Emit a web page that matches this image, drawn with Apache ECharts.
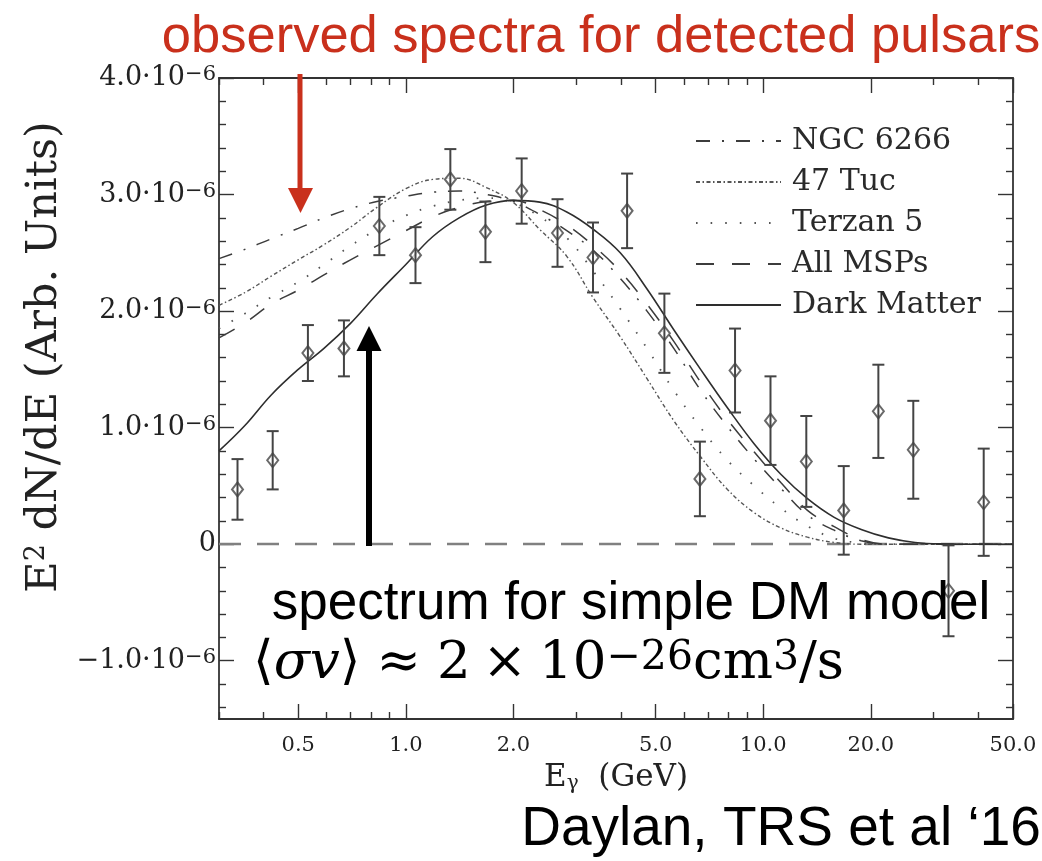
<!DOCTYPE html>
<html>
<head>
<meta charset="utf-8">
<script src="https://cdn.jsdelivr.net/npm/echarts@6/dist/echarts.min.js"></script>
<style>
  html, body { margin: 0; padding: 0; background: #ffffff; }
  #chart { width: 1042px; height: 861px; }
</style>
</head>
<body>
<div id="chart"></div>
<script>
// Binned gamma-ray excess spectrum (E^2 dN/dE in units of 1e-6)
const binEnergy = [0.338, 0.424, 0.532, 0.671, 0.843, 1.064, 1.332, 1.67, 2.109, 2.657, 3.34,
                   4.16, 5.29, 6.65, 8.34, 10.48, 13.2, 16.8, 21.0, 26.3, 33.0, 41.4];
const fluxValue = [0.47, 0.72, 1.64, 1.68, 2.73, 2.48, 3.13, 2.68, 3.03, 2.67, 2.46,
                   2.86, 1.81, 0.56, 1.49, 1.06, 0.71, 0.29, 1.14, 0.81, -0.40, 0.36];
const fluxError = [0.26, 0.25, 0.24, 0.24, 0.25, 0.24, 0.26, 0.26, 0.28, 0.29, 0.30,
                   0.32, 0.34, 0.32, 0.36, 0.38, 0.39, 0.38, 0.40, 0.42, 0.39, 0.46];

// Model spectra sampled on a common energy grid (GeV), E^2 dN/dE in 1e-6
const modelEnergy = [0.30, 0.355, 0.42, 0.50, 0.59, 0.70, 0.83, 1.0, 1.19, 1.41, 1.68, 2.0,
                     2.37, 2.82, 3.35, 3.98, 4.73, 5.62, 6.68, 7.94, 9.44, 11.2, 13.3, 15.8,
                     18.8, 22.4, 26.6, 31.6, 37.6, 50.0];
const ngc6266 = [2.45, 2.53, 2.62, 2.71, 2.80, 2.88, 2.94, 2.985, 3.02, 3.03, 3.00, 2.94,
                 2.83, 2.69, 2.52, 2.28, 2.00, 1.68, 1.32, 1.01, 0.73, 0.48, 0.25, 0.12,
                 0.03, 0.0, 0.0, 0.0, 0.0, 0.0];
const tuc47 = [2.05, 2.16, 2.30, 2.44, 2.57, 2.72, 2.89, 3.05, 3.13, 3.14, 3.06, 2.93,
               2.70, 2.47, 2.11, 1.78, 1.42, 1.06, 0.75, 0.47, 0.27, 0.14, 0.06, 0.015,
               0.0, 0.0, 0.0, 0.0, 0.0, 0.0];
const terzan5 = [1.85, 1.98, 2.12, 2.25, 2.40, 2.56, 2.70, 2.82, 2.90, 2.95, 2.97, 2.93,
                 2.81, 2.63, 2.34, 2.02, 1.68, 1.32, 1.00, 0.72, 0.50, 0.31, 0.155, 0.05,
                 0.01, 0.0, 0.0, 0.0, 0.0, 0.0];
const allMsps = [1.77, 1.90, 2.06, 2.18, 2.31, 2.44, 2.56, 2.69, 2.81, 2.89, 2.94, 2.95,
                 2.87, 2.74, 2.56, 2.34, 2.06, 1.74, 1.39, 1.07, 0.79, 0.53, 0.29, 0.15,
                 0.04, 0.0, 0.0, 0.0, 0.0, 0.0];
const darkMatter = [0.80, 1.02, 1.28, 1.50, 1.68, 1.895, 2.145, 2.40, 2.64, 2.80, 2.91, 2.95,
                    2.935, 2.85, 2.70, 2.50, 2.19, 1.84, 1.50, 1.17, 0.86, 0.60, 0.39, 0.23,
                    0.126, 0.054, 0.015, 0.002, 0.0, 0.0];

// Axis ticks
const xMajorTicks = [0.5, 1, 2, 5, 10, 20, 50];
const xMinorTicks = [0.3, 0.4, 0.6, 0.7, 0.8, 0.9, 3, 4, 6, 7, 8, 9, 30, 40];
const yMajorTicks = [-1, 0, 1, 2, 3, 4];
const yMinorTicks = [-1.4, -1.2, -0.8, -0.6, -0.4, -0.2, 0.2, 0.4, 0.6, 0.8, 1.2, 1.4, 1.6, 1.8,
                     2.2, 2.4, 2.6, 2.8, 3.2, 3.4, 3.6, 3.8];
const seriesNames = ['NGC 6266', '47 Tuc', 'Terzan 5', 'All MSPs', 'Dark Matter'];

const lg = Math.log10;
const X_MIN = lg(0.3), X_MAX = lg(50);
const Y_MIN = -1.5, Y_MAX = 4.0;
const INK = '#333333';
const SERIF = '"DejaVu Serif", "Liberation Serif", serif';
const SANS = '"Liberation Sans", Arial, sans-serif';

const pts = vs => modelEnergy.map((e, i) => [lg(e), vs[i]]);

function xAxisDef(position, ticks, len, withLine, withLabel) {
  return {
    type: 'value', position, min: X_MIN, max: X_MAX, gridIndex: 0,
    splitLine: { show: false },
    axisLine: { show: withLine, onZero: false, lineStyle: { color: INK, width: 1.8 } },
    axisTick: { show: true, inside: true, length: len, customValues: ticks.map(lg),
                lineStyle: { color: INK, width: 1.4 } },
    axisLabel: withLabel ? {
      show: true, customValues: xMajorTicks.map(lg), margin: 16,
      fontFamily: SERIF, fontSize: 21, color: '#222',
      formatter: v => Math.pow(10, v).toFixed(1)
    } : { show: false }
  };
}

function yAxisDef(position, ticks, len, withLine, withLabel) {
  return {
    type: 'value', position, min: Y_MIN, max: Y_MAX, gridIndex: 0,
    splitLine: { show: false },
    axisLine: { show: withLine, onZero: false, lineStyle: { color: INK, width: 1.8 } },
    axisTick: { show: true, inside: true, length: len, customValues: ticks,
                lineStyle: { color: INK, width: 1.4 } },
    axisLabel: withLabel ? {
      show: true, customValues: yMajorTicks, margin: 3,
      formatter: v => {
        if (Math.abs(v) < 1e-9) return '{m|0}';
        const sign = v < 0 ? '\u2212' : '';
        return '{m|' + sign + Math.abs(v).toFixed(1) + '\u00b710}{s|\u22126}';
      },
      rich: {
        m: { fontFamily: SERIF, fontSize: 27, color: '#222', lineHeight: 27, verticalAlign: 'bottom' },
        s: { fontFamily: SERIF, fontSize: 21, color: '#222', lineHeight: 21, verticalAlign: 'top',
             padding: [0, 0, 16, 0] }
      }
    } : { show: false }
  };
}

function curve(name, vs, dash, color, width) {
  return {
    name, type: 'line', xAxisIndex: 0, yAxisIndex: 0,
    data: pts(vs),
    showSymbol: false, symbol: 'none',
    smooth: 0.4,
    lineStyle: { color, width, type: dash },
    silent: true, z: 3
  };
}

const chart = echarts.init(document.getElementById('chart'), null, { renderer: 'canvas' });

chart.setOption({
  animation: false,
  backgroundColor: '#ffffff',
  grid: { left: 219, right: 29, top: 78, bottom: 142, containLabel: false },
  xAxis: [
    xAxisDef('bottom', xMajorTicks, 15, true, true),
    xAxisDef('bottom', xMinorTicks, 7, false, false),
    xAxisDef('top', xMajorTicks, 15, true, false),
    xAxisDef('top', xMinorTicks, 7, false, false)
  ],
  yAxis: [
    yAxisDef('left', yMajorTicks, 15, true, true),
    yAxisDef('left', yMinorTicks, 7, false, false),
    yAxisDef('right', yMajorTicks, 15, true, false),
    yAxisDef('right', yMinorTicks, 7, false, false)
  ],
  legend: {
    data: seriesNames,
    orient: 'vertical', left: 690, top: 121,
    itemWidth: 85, itemHeight: 20, itemGap: 11,
    selectedMode: false,
    itemStyle: { opacity: 0 },
    textStyle: { fontFamily: SERIF, fontSize: 30, color: '#2a2a2a', padding: [0, 0, 0, 6] }
  },
  series: [
    curve('NGC 6266', ngc6266, [14, 12, 2, 12], '#3c3c3c', 1.5),
    curve('47 Tuc', tuc47, [4, 2.5, 1.5, 2.5], '#555555', 1.4),
    curve('Terzan 5', terzan5, [1.6, 13], '#555555', 1.8),
    curve('All MSPs', allMsps, [18, 18], '#3c3c3c', 1.5),
    curve('Dark Matter', darkMatter, 'solid', '#2e2e2e', 1.6),
    {
      name: 'excess', type: 'scatter', xAxisIndex: 0, yAxisIndex: 0,
      data: binEnergy.map((e, i) => [lg(e), fluxValue[i]]),
      symbol: 'emptyDiamond', symbolSize: [11, 14],
      itemStyle: { color: '#444444', borderColor: '#444444', borderWidth: 1.5 },
      silent: true, z: 4,
      markLine: {
        silent: true, symbol: ['none', 'none'], label: { show: false },
        lineStyle: { color: '#808080', width: 2.4, type: [22, 16] },
        data: [{ yAxis: 0 }], z: 2
      }
    },
    {
      name: 'errors', type: 'custom', xAxisIndex: 0, yAxisIndex: 0,
      data: binEnergy.map((e, i) => [lg(e), fluxValue[i], fluxError[i]]),
      encode: { x: 0, y: 1 },
      silent: true, z: 5,
      renderItem: (params, api) => {
        const x = api.value(0), v = api.value(1), e = api.value(2);
        const hi = api.coord([x, v + e]);
        const lo = api.coord([x, v - e]);
        const cap = 6;
        const st = { stroke: '#444444', lineWidth: 2 };
        return {
          type: 'group',
          children: [
            { type: 'line', shape: { x1: hi[0], y1: hi[1], x2: lo[0], y2: lo[1] }, style: st },
            { type: 'line', shape: { x1: hi[0] - cap, y1: hi[1], x2: hi[0] + cap, y2: hi[1] }, style: st },
            { type: 'line', shape: { x1: lo[0] - cap, y1: lo[1], x2: lo[0] + cap, y2: lo[1] }, style: st }
          ]
        };
      }
    }
  ],
  graphic: [
    // axis titles
    {
      type: 'text', x: 45, y: 357, rotation: Math.PI / 2, z: 10,
      style: {
        text: '{m|E}{s|2}{m| dN/dE (Arb. Units)}',
        align: 'center', verticalAlign: 'middle',
        rich: {
          m: { fontFamily: SERIF, fontSize: 43, fill: '#222', lineHeight: 43, verticalAlign: 'bottom' },
          s: { fontFamily: SERIF, fontSize: 27, fill: '#222', lineHeight: 27, verticalAlign: 'top', padding: [0, 0, 18, 0] }
        }
      }
    },
    {
      type: 'text', x: 616, y: 778, z: 10,
      style: {
        text: '{m|E}{s|\u03b3}{m|  (GeV)}',
        align: 'center', verticalAlign: 'middle',
        rich: {
          m: { fontFamily: SERIF, fontSize: 31, fill: '#222', lineHeight: 31, verticalAlign: 'top' },
          s: { fontFamily: SERIF, fontSize: 20, fill: '#222', lineHeight: 20, verticalAlign: 'bottom', padding: [11, 0, 0, 0] }
        }
      }
    },
    // annotation: pulsar spectra
    {
      type: 'text', x: 601, y: 38, z: 10,
      style: { text: 'observed spectra for detected pulsars', fontFamily: SANS, fontSize: 52.5,
               fill: '#c9301c', align: 'center', verticalAlign: 'middle' }
    },
    { type: 'line', z: 10, shape: { x1: 300, y1: 74, x2: 300, y2: 192 },
      style: { stroke: '#c9301c', lineWidth: 5 } },
    { type: 'polygon', z: 10, shape: { points: [[288, 188], [313, 188], [300.5, 213]] },
      style: { fill: '#c9301c' } },
    // annotation: dark matter spectrum
    { type: 'line', z: 10, shape: { x1: 369, y1: 546, x2: 369, y2: 348 },
      style: { stroke: '#000000', lineWidth: 6 } },
    { type: 'polygon', z: 10, shape: { points: [[356.5, 351], [381.5, 351], [369, 326]] },
      style: { fill: '#000000' } },
    {
      type: 'text', x: 631, y: 604, z: 10,
      style: { text: 'spectrum for simple DM model', fontFamily: SANS, fontSize: 53,
               fill: '#000000', align: 'center', verticalAlign: 'middle' }
    },
    {
      type: 'text', x: 253, y: 664, z: 10,
      style: {
        text: '{p|\u27e8}{i|\u03c3v}{p|\u27e9}{g|}{p|\u2248}{g|}{p|2}{h|}{p|\u00d7}{h|}{p|10}{s|\u221226}{p|cm}{s|3}{p|/s}',
        align: 'left', verticalAlign: 'middle',
        rich: {
          p: { fontFamily: SERIF, fontSize: 53, fill: '#000', lineHeight: 53, verticalAlign: 'bottom' },
          i: { fontFamily: SERIF, fontSize: 53, fontStyle: 'italic', fill: '#000', lineHeight: 53, verticalAlign: 'bottom' },
          g: { width: 16, lineHeight: 53, verticalAlign: 'bottom' },
          h: { width: 12, lineHeight: 53, verticalAlign: 'bottom' },
          s: { fontFamily: SERIF, fontSize: 41, fill: '#000', lineHeight: 41, verticalAlign: 'top', padding: [0, 0, 20, 0] }
        }
      }
    },
    {
      type: 'text', x: 781, y: 830, z: 10,
      style: { text: 'Daylan, TRS et al \u201816', fontFamily: SANS, fontSize: 55,
               fill: '#000000', align: 'center', verticalAlign: 'middle' }
    }
  ]
});
</script>
</body>
</html>
